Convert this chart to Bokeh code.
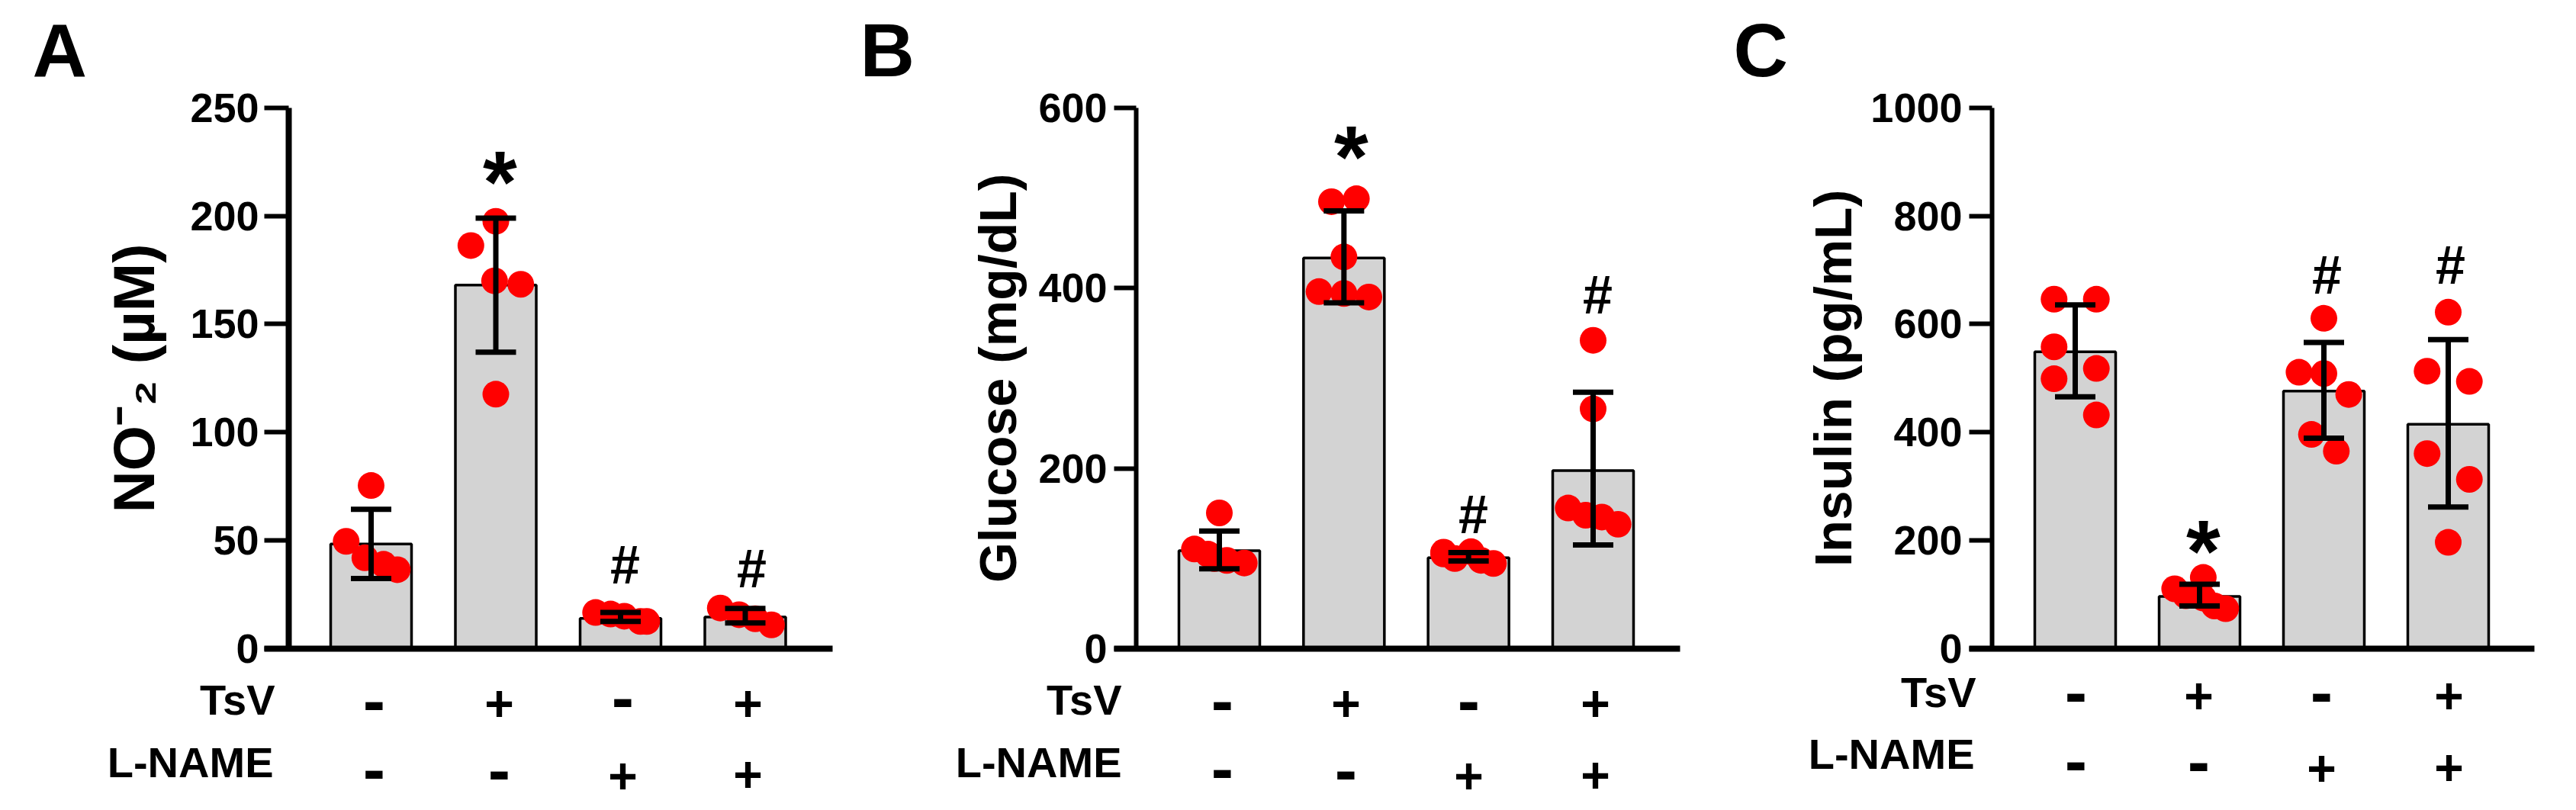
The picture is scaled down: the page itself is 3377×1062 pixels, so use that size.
from math import pi

from bokeh.core.properties import value
from bokeh.embed import file_html
from bokeh.layouts import row
from bokeh.models import FixedTicker, Range1d
from bokeh.plotting import figure
from bokeh.resources import INLINE

# ---- data -------------------------------------------------------------
tsv_signs = ["-", "+", "-", "+"]
lname_signs = ["-", "-", "+", "+"]

no2_means = [48.4, 168, 14, 14.6]
no2_err_hi = [64.4, 199, 16.7, 18.6]
no2_err_lo = [32.4, 137, 12.6, 11.9]
no2_points = [
    [75.4, 49.6, 42, 39, 36.5],
    [197.5, 186.3, 170, 168.4, 117.6],
    [16.7, 16, 15, 12.6, 12.6],
    [18.8, 15.7, 13.8, 11],
]
no2_jitter = [
    [0.0, -0.2, -0.05, 0.1, 0.21],
    [0.0, -0.2, -0.01, 0.2, 0.0],
    [-0.2, -0.08, 0.03, 0.16, 0.21],
    [-0.2, -0.05, 0.08, 0.21],
]

glucose_means = [108.8, 433.4, 100.8, 197.5]
glucose_err_hi = [130.5, 485.5, 106.5, 284.5]
glucose_err_lo = [88.7, 383.6, 97.3, 115]
glucose_points = [
    [150.6, 110.5, 104.8, 100, 97.9, 95],
    [495.8, 499, 434.5, 396, 394, 390],
    [107, 107.6, 105, 100, 98, 94.5],
    [342, 266, 156, 148, 146, 138],
]
glucose_jitter = [
    [0.0, -0.2, -0.09, -0.04, 0.06, 0.2],
    [-0.1, 0.1, 0.0, -0.2, 0.0, 0.2],
    [-0.2, 0.02, -0.2, -0.11, 0.1, 0.2],
    [0.0, 0.0, -0.2, -0.06, 0.07, 0.2],
]

insulin_means = [548.7, 96.4, 476, 415]
insulin_err_hi = [635.5, 119, 566, 571.5]
insulin_err_lo = [465.6, 79, 389, 262]
insulin_points = [
    [646, 646, 558, 518, 499, 432],
    [131.7, 110.7, 98, 93.5, 79, 74],
    [610.7, 511, 508.6, 470, 396, 365],
    [622, 513, 494, 360.7, 313, 196.6],
]
insulin_jitter = [
    [-0.17, 0.17, -0.17, 0.17, -0.17, 0.17],
    [0.03, -0.2, -0.11, 0.03, 0.12, 0.21],
    [0.0, -0.2, 0.0, 0.2, -0.1, 0.1],
    [0.0, -0.17, 0.17, -0.17, 0.17, 0.0],
]

FONT = "Liberation Sans"
PAGE_TOP, PAGE_BOTTOM = 0, 1060
TOP, BOTTOM = 140.7, 850.0
CAP_PX = 53
GREY = "#d3d3d3"


def panel(fig_left, fig_right, axis_x, tick_left, axis_end, centers, ymax, yticks, means, hi, lo, pts, jit,
          letter, letter_x, ylabel, label_x, label_size, label_style, yaxis_w, tick_w,
          row_y, sign_x, tsv_y, lname_y, marks, label_right, standoff):
    spacing = (centers[-1] - centers[0]) / 3
    xs = [1, 2, 3, 4]
    to_x = lambda px: 1 + (px - centers[0]) / spacing
    to_y = lambda py: (BOTTOM - py) / (BOTTOM - TOP) * ymax
    p = figure(width=fig_right - fig_left, height=PAGE_BOTTOM - PAGE_TOP, output_backend="svg", toolbar_location=None,
               x_range=Range1d(to_x(fig_left), to_x(fig_right)),
               y_range=Range1d(to_y(PAGE_BOTTOM), to_y(PAGE_TOP)),
               min_border=0, min_border_left=0, min_border_right=0, min_border_top=0, min_border_bottom=0,
               background_fill_color="white", border_fill_color="white", outline_line_color=None)
    p.grid.visible = False
    bar_w = 106 / spacing
    p.vbar(x=xs, top=means, width=bar_w, bottom=0, fill_color=GREY, line_color="black", line_width=3.5)
    for i, (ys, js) in enumerate(zip(pts, jit)):
        p.scatter(x=[xs[i] + j for j in js], y=ys, size=35, marker="circle",
                  fill_color="#ff0000", line_color=None)
    cap = CAP_PX / spacing / 2
    p.segment(x0=xs, x1=xs, y0=lo, y1=hi, line_color="black", line_width=7)
    p.segment(x0=[x - cap for x in xs], x1=[x + cap for x in xs], y0=hi, y1=hi, line_color="black", line_width=7)
    p.segment(x0=[x - cap for x in xs], x1=[x + cap for x in xs], y0=lo, y1=lo, line_color="black", line_width=7)

    ya = p.yaxis[0]
    ya.fixed_location = to_x(axis_x)
    ya.bounds = (0, ymax)
    ya.ticker = FixedTicker(ticks=yticks)
    ya.axis_line_width = yaxis_w
    ya.axis_line_color = "black"
    ya.major_tick_line_width = tick_w
    ya.major_tick_line_color = "black"
    ya.major_tick_out = axis_x - tick_left
    ya.major_tick_in = 0
    ya.minor_tick_line_color = None
    ya.major_label_text_font = FONT
    ya.major_label_text_font_style = "bold"
    ya.major_label_text_font_size = "54px"
    ya.major_label_text_color = "black"
    ya.major_label_standoff = standoff

    xa = p.xaxis[0]
    xa.fixed_location = 0
    xa.bounds = (to_x(tick_left), to_x(axis_end))
    xa.ticker = FixedTicker(ticks=[])
    xa.axis_line_width = 8
    xa.axis_line_color = "black"
    xa.major_tick_line_color = None
    xa.minor_tick_line_color = None

    def txt(px, py, text, size, align="center", base="middle", style="bold", angle=0.0):
        p.text(x=[to_x(px)], y=[to_y(py)], text=[text], angle=angle, text_font=value(FONT),
               text_font_size=size, text_font_style=style, text_align=align, text_baseline=base,
               text_color="black")

    txt(label_x, (TOP + BOTTOM) / 2, ylabel, label_size, style=label_style, angle=pi / 2)
    txt(letter_x, 65, letter, "99px", align="left")
    txt(label_right[0], row_y[0], "TsV", "56px", align="right")
    txt(label_right[1], row_y[1], "L-NAME", "56px", align="right")
    for signs, ypos in ((tsv_signs, tsv_y), (lname_signs, lname_y)):
        for s, px, py in zip(signs, sign_x, ypos):
            if s == "-":
                txt(px, py - 3, s, "88px")
            else:
                txt(px, py, s, "66px")
    for s, px, py in marks:
        if s == "*":
            txt(px, py + 13, s, "115px")
        else:
            txt(px, py + 3, s, "70px")
    return p


pa = panel(0, 1100, 378, 346, 1091, [486, 650, 813, 976.5], 250, [0, 50, 100, 150, 200, 250],
           no2_means, no2_err_hi, no2_err_lo, no2_points, no2_jitter,
           "A", 42, "NO\u207b\u2082 (\u00b5M)", 175, "76px", "bold", 8, 6,
           (917, 999), [490, 654, 816, 980], [920, 921, 916, 921], [1010, 1011, 1016, 1014],
           [("*", 655, 224), ("#", 819, 737), ("#", 985, 742)], (360, 358), 7)
pb = panel(1100, 2250, 1489, 1460, 2202, [1598, 1762, 1925, 2088], 600, [0, 200, 400, 600],
           glucose_means, glucose_err_hi, glucose_err_lo, glucose_points, glucose_jitter,
           "B", 1127, "Glucose (mg/dL)", 1307, "68px", "bold", 6, 6,
           (917, 999), [1602, 1764, 1925, 2091], [920, 921, 920, 921], [1009, 1011, 1016, 1015],
           [("*", 1771, 191), ("#", 1931, 671), ("#", 2094, 383)], (1470, 1470), 9)
pc = panel(2250, 3369, 2611, 2581, 3322, [2720, 2883, 3046, 3209], 1000, [0, 200, 400, 600, 800, 1000],
           insulin_means, insulin_err_hi, insulin_err_lo, insulin_points, insulin_jitter,
           "C", 2272, "Insulin (pg/mL)", 2403, "69px", "bold", 6, 6,
           (907, 988), [2721, 2882, 3043, 3210], [909, 911, 909, 911], [999, 1000, 1006, 1005],
           [("*", 2888, 708), ("#", 3050, 357), ("#", 3212, 344)], (2590, 2588), 9)

layout = row(pa, pb, pc, spacing=0)
open("out.html", "w").write(file_html(layout, INLINE))
